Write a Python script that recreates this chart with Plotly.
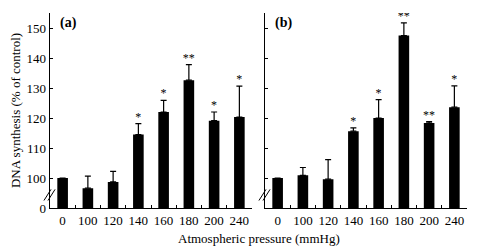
import plotly.graph_objects as go
from plotly.subplots import make_subplots

categories = ["0", "100", "120", "140", "160", "180", "200", "240"]
values_a = [100, 96.6, 98.7, 114.5, 122.0, 132.6, 119.1, 120.3]
errors_a = [0, 4.0, 3.5, 3.6, 3.9, 5.2, 2.9, 10.3]
stars_a = ["", "", "", "*", "*", "**", "*", "*"]
values_b = [100, 100.9, 99.6, 115.6, 120.0, 147.5, 118.3, 123.6]
errors_b = [0, 2.6, 6.5, 1.1, 6.1, 4.2, 0.5, 7.1]
stars_b = ["", "", "", "*", "*", "**", "**", "*"]
ytick_vals = [90, 100, 110, 120, 130, 140, 150]
ytick_text = ["0", "100", "110", "120", "130", "140", "150"]

FONT = "Liberation Serif"

fig = make_subplots(rows=1, cols=2, horizontal_spacing=0.0312)

for col, vals, errs, stars, label in [
    (1, values_a, errors_a, stars_a, "(a)"),
    (2, values_b, errors_b, stars_b, "(b)"),
]:
    fig.add_trace(go.Bar(
        x=categories, y=vals, width=0.42,
        marker=dict(color="#000000", line=dict(width=0)),
        error_y=dict(type="data", array=errs, arrayminus=[0] * len(errs),
                     symmetric=False, color="#000000", thickness=1.2, width=3),
        showlegend=False, hoverinfo="skip",
    ), row=1, col=col)
    fig.add_trace(go.Scatter(
        x=categories, y=[v + e for v, e in zip(vals, errs)], text=stars,
        mode="text", textposition="top center",
        textfont=dict(family=FONT, size=12, color="#000000"),
        showlegend=False, hoverinfo="skip",
    ), row=1, col=col)
    xr = "x" if col == 1 else "x2"
    yr = "y" if col == 1 else "y2"
    fig.add_annotation(x=0.04, y=1.0, xref=xr + " domain", yref=yr + " domain",
                       text="<b>" + label + "</b>", showarrow=False,
                       xanchor="left", yanchor="top",
                       font=dict(family=FONT, size=14, color="#000"))
    # axis break marks
    for dx in (0, 4):
        fig.add_shape(type="line", xref=xr + " domain", yref=yr,
                      x0=(-6 + dx) / 200, x1=(1 + dx) / 200, y0=92.5, y1=96.2,
                      line=dict(color="#000", width=1))

axis_common = dict(showline=True, linecolor="#000", linewidth=1.3,
                   ticks="inside", tickcolor="#000", showgrid=False, zeroline=False,
                   tickfont=dict(family=FONT, size=13, color="#000"),
                   automargin=False)

fig.update_xaxes(**axis_common, ticklen=3, tickson="boundaries", tickangle=0,
                 range=[-0.5, 7.5], type="category")
fig.update_yaxes(**axis_common, ticklen=3, range=[90, 155],
                 tickvals=ytick_vals, ticktext=ytick_text)
fig.update_yaxes(showticklabels=False, row=1, col=2)
fig.update_yaxes(title=dict(text="DNA synthesis (% of control)", standoff=3,
                            font=dict(family=FONT, size=13, color="#000")),
                 row=1, col=1)

fig.add_annotation(x=0.5, y=-0.155, xref="paper", yref="paper",
                   text="Atmospheric pressure (mmHg)", showarrow=False,
                   xanchor="center", yanchor="middle",
                   font=dict(family=FONT, size=13, color="#000"))

fig.update_layout(width=479, height=250,
                  margin=dict(l=50, r=12, t=13, b=42, autoexpand=False),
                  plot_bgcolor="white", paper_bgcolor="white", bargap=0.58)

fig.write_html("out.html", config={"displayModeBar": False, "staticPlot": True},
               post_script="document.body.style.margin='0px';document.body.style.overflow='hidden';")
